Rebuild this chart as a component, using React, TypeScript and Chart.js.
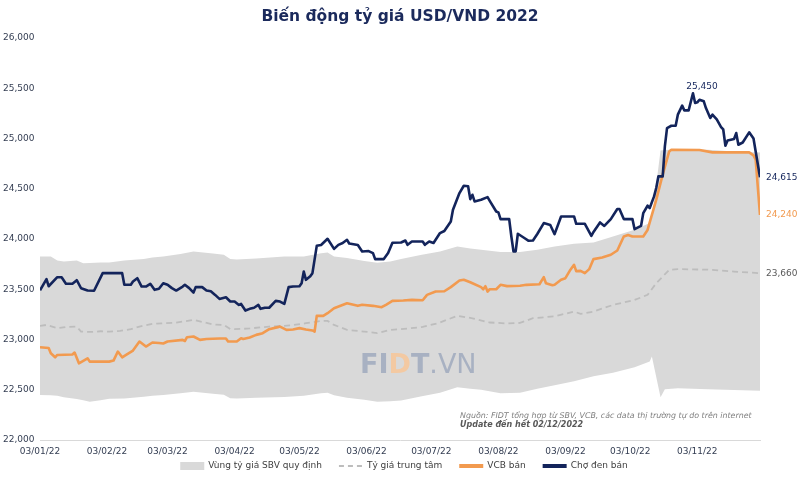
import React, { useEffect, useRef } from 'react';
import { Chart, registerables } from 'chart.js';

Chart.register(...registerables);

const TITLE = 'Biến động tỷ giá USD/VND 2022';
const SOURCE_LINE = 'Nguồn: FIDT tổng hợp từ SBV, VCB, các data thị trường tự do trên internet';
const UPDATE_LINE = 'Update đến hết 02/12/2022';

// x values are days counted from 03/01/2022
const xTickDays = [0, 31, 59, 90, 120, 151, 181, 212, 243, 273, 304];
const xTickLabels = ['03/01/22', '03/02/22', '03/03/22', '03/04/22', '03/05/22', '03/06/22', '03/07/22', '03/08/22', '03/09/22', '03/10/22', '03/11/22'];

const blackDays = [0, 3, 4, 8, 10, 12, 15, 17, 19, 22, 25, 29, 38, 39, 42, 43, 45, 47, 49, 51, 53, 55, 57, 59, 61, 63, 66, 67, 69, 71, 72, 75, 77, 79, 81, 83, 86, 88, 90, 92, 93, 95, 97, 99, 101, 102, 104, 106, 109, 111, 113, 115, 117, 120, 121, 122, 123, 125, 126, 128, 130, 133, 136, 138, 140, 142, 143, 147, 149, 152, 154, 155, 159, 161, 163, 167, 169, 170, 172, 177, 178, 180, 182, 185, 187, 190, 191, 194, 196, 198, 199, 200, 201, 204, 207, 208, 211, 212, 213, 217, 218, 219, 220, 221, 224, 226, 228, 230, 233, 236, 238, 241, 247, 248, 252, 255, 256, 259, 261, 264, 267, 268, 270, 274, 275, 278, 279, 281, 282, 284, 285, 286, 288, 289, 290, 292, 294, 295, 297, 298, 300, 302, 303, 304, 305, 307, 308, 310, 311, 313, 315, 316, 317, 318, 321, 322, 323, 325, 328, 330, 331, 333];
const blackValues = [23490, 23600, 23530, 23620, 23620, 23555, 23555, 23590, 23510, 23487, 23485, 23660, 23660, 23545, 23545, 23577, 23610, 23527, 23527, 23554, 23494, 23505, 23560, 23545, 23511, 23487, 23527, 23544, 23511, 23467, 23521, 23521, 23487, 23480, 23444, 23404, 23420, 23378, 23378, 23344, 23354, 23288, 23305, 23316, 23344, 23305, 23316, 23316, 23384, 23378, 23354, 23521, 23527, 23530, 23560, 23676, 23594, 23630, 23660, 23932, 23940, 24002, 23902, 23942, 23960, 23992, 23955, 23940, 23876, 23880, 23860, 23800, 23800, 23860, 23962, 23965, 23985, 23942, 23975, 23975, 23942, 23975, 23960, 24059, 24080, 24175, 24291, 24457, 24530, 24525, 24397, 24440, 24374, 24390, 24417, 24380, 24274, 24265, 24198, 24198, 24025, 23876, 23876, 24052, 24010, 23982, 23985, 24050, 24158, 24140, 24048, 24224, 24224, 24151, 24151, 24032, 24070, 24165, 24130, 24198, 24298, 24298, 24198, 24198, 24098, 24131, 24257, 24331, 24308, 24424, 24507, 24623, 24623, 24921, 25104, 25127, 25127, 25237, 25327, 25280, 25280, 25450, 25353, 25360, 25386, 25370, 25303, 25204, 25237, 25190, 25114, 25090, 24928, 24981, 24995, 25054, 24938, 24960, 25061, 25000, 24871, 24615];

const vcbDays = [0, 4, 5, 7, 8, 15, 16, 18, 22, 23, 32, 34, 36, 38, 40, 43, 46, 49, 52, 55, 57, 59, 66, 67, 68, 71, 74, 77, 83, 86, 87, 91, 93, 94, 97, 100, 103, 106, 110, 111, 114, 117, 120, 123, 126, 127, 128, 131, 133, 136, 142, 147, 149, 154, 158, 160, 163, 168, 172, 177, 179, 183, 187, 190, 194, 196, 199, 204, 205, 206, 207, 208, 211, 213, 216, 222, 225, 231, 233, 234, 237, 238, 241, 243, 245, 247, 248, 250, 252, 254, 256, 260, 264, 267, 270, 272, 274, 279, 281, 283, 285, 288, 291, 292, 305, 311, 328, 330, 331, 333];
const vcbValues = [22923, 22915, 22863, 22823, 22846, 22850, 22870, 22763, 22813, 22780, 22780, 22790, 22880, 22823, 22850, 22890, 22980, 22930, 22970, 22965, 22960, 22980, 22996, 22985, 23023, 23030, 22996, 23005, 23010, 23010, 22980, 22980, 23013, 23005, 23020, 23046, 23063, 23103, 23123, 23129, 23096, 23100, 23113, 23100, 23090, 23079, 23235, 23235, 23262, 23311, 23361, 23335, 23345, 23335, 23321, 23345, 23384, 23388, 23394, 23390, 23444, 23477, 23480, 23521, 23587, 23594, 23570, 23521, 23500, 23530, 23477, 23500, 23500, 23544, 23531, 23535, 23544, 23550, 23620, 23560, 23540, 23544, 23594, 23610, 23683, 23743, 23680, 23683, 23660, 23700, 23800, 23815, 23843, 23886, 24025, 24040, 24025, 24025, 24090, 24240, 24390, 24640, 24871, 24888, 24885, 24862, 24862, 24832, 24789, 24240];

const centralDays = [0, 3, 8, 12, 17, 19, 24, 28, 32, 37, 42, 46, 52, 57, 62, 66, 71, 76, 80, 85, 88, 93, 97, 106, 116, 123, 130, 133, 136, 142, 150, 156, 162, 167, 177, 184, 193, 199, 208, 216, 222, 228, 238, 247, 250, 256, 265, 275, 281, 285, 291, 295, 309, 321, 333];
const centralValues = [23135, 23145, 23112, 23125, 23128, 23079, 23075, 23082, 23078, 23085, 23103, 23129, 23155, 23162, 23165, 23178, 23195, 23170, 23150, 23145, 23103, 23105, 23110, 23129, 23140, 23162, 23185, 23185, 23145, 23096, 23079, 23063, 23096, 23103, 23125, 23162, 23235, 23215, 23169, 23160, 23165, 23212, 23230, 23278, 23255, 23278, 23344, 23394, 23444, 23560, 23693, 23700, 23695, 23676, 23660];

const bandDays = [0, 5, 8, 11, 17, 20, 23, 28, 32, 39, 48, 52, 57, 65, 71, 80, 85, 88, 91, 100, 113, 122, 130, 133, 136, 142, 150, 156, 162, 167, 176, 185, 193, 199, 204, 213, 222, 230, 238, 247, 256, 265, 275, 282, 283, 287, 289, 295, 309, 321, 333];
const bandTop = [23826, 23826, 23786, 23776, 23786, 23759, 23762, 23765, 23765, 23786, 23800, 23815, 23826, 23850, 23876, 23855, 23843, 23800, 23795, 23805, 23826, 23826, 23859, 23865, 23826, 23810, 23780, 23763, 23776, 23800, 23840, 23876, 23925, 23905, 23892, 23870, 23870, 23892, 23925, 23952, 23965, 24025, 24092, 24158, 24200, 24880, 24885, 24890, 24888, 24870, 24860];
const bandBottom = [22448, 22445, 22440, 22425, 22408, 22395, 22381, 22395, 22410, 22412, 22430, 22440, 22448, 22465, 22481, 22460, 22450, 22415, 22412, 22420, 22428, 22440, 22465, 22470, 22445, 22420, 22400, 22380, 22385, 22392, 22432, 22471, 22525, 22510, 22500, 22465, 22470, 22510, 22545, 22585, 22635, 22670, 22725, 22780, 22830, 22425, 22505, 22515, 22505, 22498, 22491];

const NAVY = '#13245B';
const ORANGE = '#F29A4F';
const DASH_GREY = '#BDBDBD';
const BAND = '#D9D9D9';
const AXIS_TEXT = '#333D52';
const FONT = '"DejaVu Sans", sans-serif';

const pts = (days: number[], vals: number[]) => days.map((d, i) => ({ x: d, y: vals[i] }));
const fmt = (v: number) => v.toLocaleString('en-US');

const overlayPlugin = {
  id: 'overlay',
  beforeDatasetsDraw(chart: any) {
    const { ctx } = chart;
    ctx.save();
    ctx.textBaseline = 'alphabetic';
    ctx.textAlign = 'left';
    ctx.font = `bold 27px ${FONT}`;
    const parts: [string, string][] = [['FI', '#A8B1C2'], ['D', '#F3C9A2'], ['T', '#A8B1C2'], ['.VN', '#A8B1C2']];
    let x = 360;
    for (const [t, c] of parts) {
      ctx.fillStyle = c;
      if (t === '.VN') ctx.font = `27px ${FONT}`;
      ctx.fillText(t, x, 373);
      x += ctx.measureText(t).width;
    }
    ctx.restore();
  },
  afterDraw(chart: any) {
    const { ctx, chartArea, scales } = chart;
    const xs = scales.x;
    const ys = scales.y;
    ctx.save();
    // title
    ctx.font = `bold 15.5px ${FONT}`;
    ctx.fillStyle = '#1B2A5C';
    ctx.textAlign = 'center';
    ctx.textBaseline = 'middle';
    ctx.fillText(TITLE, 400, 17);

    // end labels
    ctx.font = `9px ${FONT}`;
    ctx.textAlign = 'left';
    const ends: [number[], number[], string][] = [
      [blackDays, blackValues, NAVY],
      [vcbDays, vcbValues, ORANGE],
      [centralDays, centralValues, '#595959'],
    ];
    for (const [d, v, c] of ends) {
      const last = v[v.length - 1];
      ctx.fillStyle = c;
      ctx.fillText(fmt(last), chartArea.right + 6, ys.getPixelForValue(last));
    }
    // peak label
    let pi = 0;
    blackValues.forEach((v, i) => { if (v > blackValues[pi]) pi = i; });
    ctx.fillStyle = NAVY;
    ctx.textAlign = 'center';
    ctx.fillText(fmt(blackValues[pi]), xs.getPixelForValue(blackDays[pi]) + 9, ys.getPixelForValue(blackValues[pi]) - 7);

    // source note
    ctx.textAlign = 'left';
    ctx.font = `italic 7.9px ${FONT}`;
    ctx.fillStyle = '#7F7F7F';
    ctx.fillText(SOURCE_LINE, 460, 415.5);
    ctx.font = `italic bold 8px ${FONT}`;
    ctx.fillStyle = '#595959';
    ctx.fillText(UPDATE_LINE, 460, 424.5);

    // legend
    const items = [
      { label: chart.data.datasets[3].label, kind: 'box', color: BAND, dash: [] as number[], w: 8 },
      { label: chart.data.datasets[2].label, kind: 'line', color: DASH_GREY, dash: [5, 4], w: 2 },
      { label: chart.data.datasets[1].label, kind: 'line', color: ORANGE, dash: [], w: 4 },
      { label: chart.data.datasets[0].label, kind: 'line', color: NAVY, dash: [], w: 4 },
    ];
    ctx.font = `9px ${FONT}`;
    const symW = 24, gap = 4, spacing = 17;
    const widths = items.map((it) => ctx.measureText(it.label).width);
    const total = widths.reduce((a, b) => a + b, 0) + items.length * (symW + gap) + spacing * (items.length - 1);
    let lx = 404 - total / 2;
    const ly = 466;
    items.forEach((it, i) => {
      if (it.kind === 'box') {
        ctx.fillStyle = it.color;
        ctx.fillRect(lx, ly - 4, symW, 8);
      } else {
        ctx.strokeStyle = it.color;
        ctx.lineWidth = it.w;
        ctx.setLineDash(it.dash);
        ctx.beginPath();
        ctx.moveTo(lx, ly);
        ctx.lineTo(lx + symW, ly);
        ctx.stroke();
        ctx.setLineDash([]);
      }
      ctx.fillStyle = '#404040';
      ctx.textBaseline = 'middle';
      ctx.fillText(it.label, lx + symW + gap, ly);
      lx += symW + gap + widths[i] + spacing;
    });
    ctx.restore();
  },
};

export default function App() {
  const ref = useRef<HTMLCanvasElement>(null);
  useEffect(() => {
    if (!ref.current) return;
    const chart = new Chart(ref.current, {
      type: 'line',
      data: {
        datasets: [
          { label: 'Chợ đen bán', data: pts(blackDays, blackValues), borderColor: NAVY, borderWidth: 2.6, pointRadius: 0, tension: 0, fill: false, borderJoinStyle: 'round' },
          { label: 'VCB bán', data: pts(vcbDays, vcbValues), borderColor: ORANGE, borderWidth: 2.6, pointRadius: 0, tension: 0, fill: false, borderJoinStyle: 'round' },
          { label: 'Tỷ giá trung tâm', data: pts(centralDays, centralValues), borderColor: DASH_GREY, borderWidth: 1.8, borderDash: [6, 4], pointRadius: 0, tension: 0, fill: false },
          { label: 'Vùng tỷ giá SBV quy định', data: pts(bandDays, bandTop), borderWidth: 0, borderColor: BAND, backgroundColor: BAND, pointRadius: 0, tension: 0, fill: '+1' },
          { label: '', data: pts(bandDays, bandBottom), borderWidth: 0, borderColor: BAND, backgroundColor: BAND, pointRadius: 0, tension: 0, fill: false },
        ],
      } as any,
      options: {
        animation: false,
        responsive: false,
        layout: { padding: { left: 3, right: 40, top: 38, bottom: 0 } },
        plugins: {
          legend: { display: false },
          tooltip: { enabled: false },
          filler: { drawTime: 'beforeDatasetsDraw' },
        } as any,
        scales: {
          x: {
            type: 'linear',
            min: 0,
            max: 333,
            grid: { display: false, drawTicks: false },
            border: { display: true, color: '#D9D9D9' },
            ticks: {
              autoSkip: false,
              maxRotation: 0,
              padding: 6,
              color: AXIS_TEXT,
              font: { family: FONT, size: 9 },
              callback: (v: any) => {
                const i = xTickDays.indexOf(Number(v));
                return i >= 0 ? xTickLabels[i] : '';
              },
            },
            afterBuildTicks: (s: any) => { s.ticks = xTickDays.map((v) => ({ value: v })); },
            afterFit: (s: any) => { s.height = 46; },
          },
          y: {
            min: 22000,
            max: 26000,
            grid: { display: false },
            border: { display: false },
            ticks: {
              stepSize: 500,
              crossAlign: 'far',
              color: AXIS_TEXT,
              font: { family: FONT, size: 9 },
              callback: (v: any) => fmt(Number(v)),
            },
            afterFit: (s: any) => { s.width = 37; },
          },
        } as any,
      },
      plugins: [overlayPlugin],
    });
    return () => chart.destroy();
  }, []);
  return (
    <div style={{ position: 'fixed', left: 0, top: 0, width: 800, height: 486, background: '#fff' }}>
      <canvas ref={ref} width={800} height={486} style={{ display: 'block' }} />
    </div>
  );
}
